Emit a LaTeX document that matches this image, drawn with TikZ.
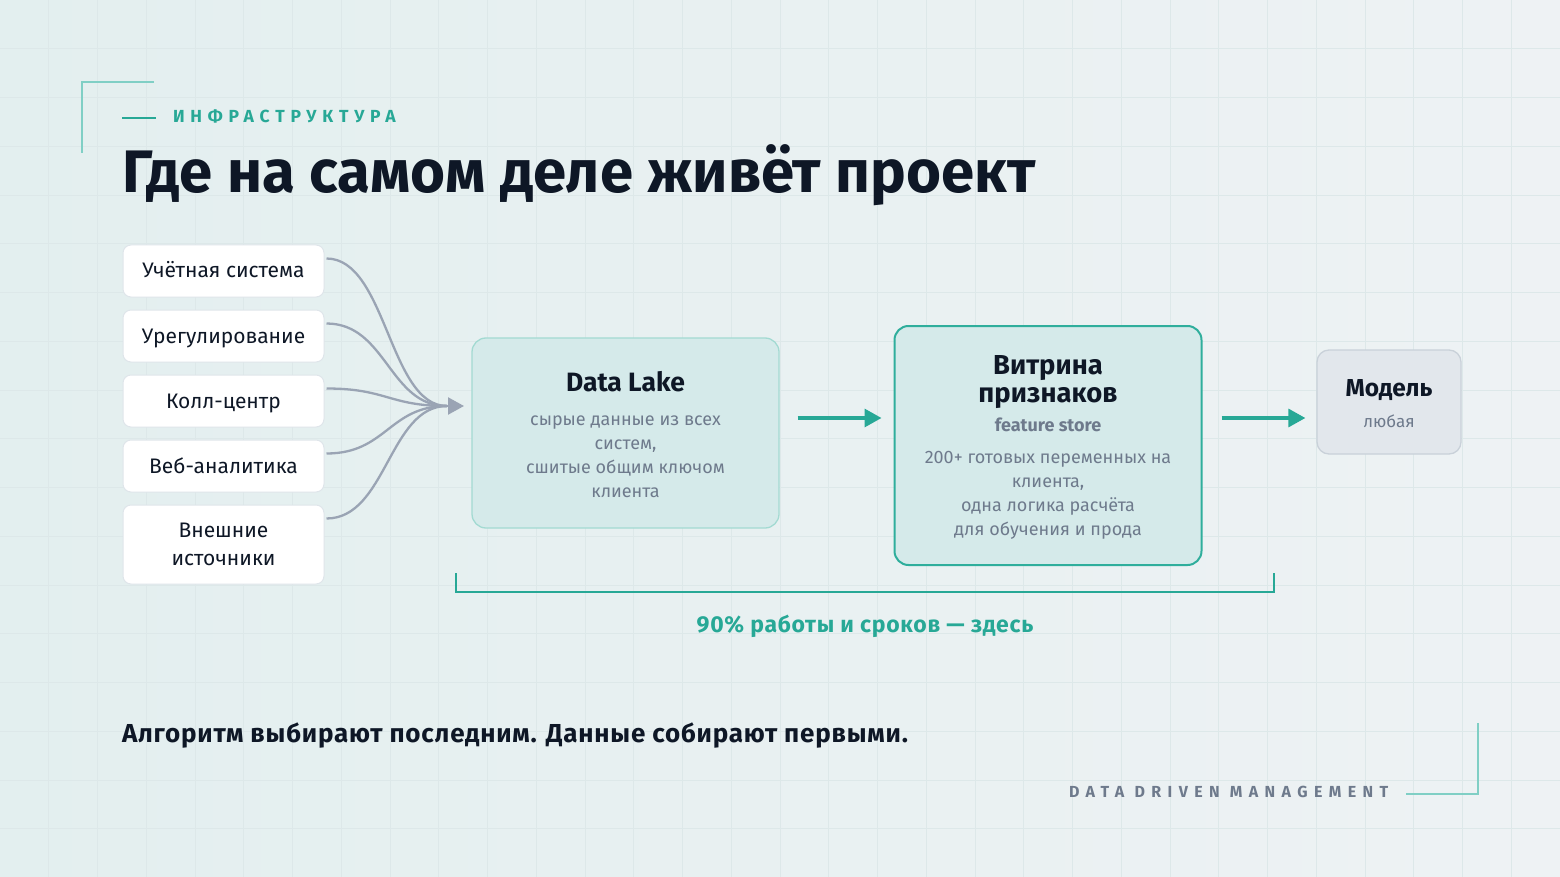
\documentclass[tikz,border=0pt]{standalone}
\usepackage{fontspec}
\setmainfont{Fira Sans}
\newfontfamily\kickfont[LetterSpace=33]{Fira Sans}
\newfontfamily\brandfont[LetterSpace=40]{Fira Sans}
\newfontfamily\widefont[LetterSpace=3]{Fira Sans}
\newfontfamily\titlefont{Fira Sans}
\usetikzlibrary{arrows.meta,calc}
\definecolor{bgA}{HTML}{E3EFEF}
\definecolor{bgB}{HTML}{EEF2F4}
\definecolor{gridc}{HTML}{DDE8E9}
\definecolor{accentl}{HTML}{80CFC5}
\definecolor{tealc}{HTML}{27A896}
\definecolor{navy}{HTML}{0E1726}
\definecolor{grayt}{HTML}{6E7A8C}
\definecolor{curvec}{HTML}{9AA4B4}
\definecolor{srcborder}{HTML}{DFE5EA}
\definecolor{lakefill}{HTML}{D5EAEA}
\definecolor{lakeborder}{HTML}{A3DAD2}
\definecolor{shelfborder}{HTML}{2FAE9C}
\definecolor{modelfill}{HTML}{E2E7EC}
\definecolor{modelborder}{HTML}{C9D1D9}
\begin{document}
\begin{tikzpicture}[x=1pt,y=-1pt,
  txt/.style={inner sep=0pt, outer sep=0pt, anchor=base},
  srcbox/.style={draw=srcborder, fill=white, rounded corners=8pt, line width=1pt, minimum width=201pt, inner sep=0pt},
  srctext/.style={txt, text=navy, font=\fontsize{21}{28}\selectfont, align=center},
  bigbox/.style={rounded corners=14pt, minimum width=307pt, inner sep=0pt},
  boxtitle/.style={txt, text=navy, font=\bfseries\fontsize{27.4}{28}\selectfont, align=center},
  boxbody/.style={txt, text=grayt, font=\fontsize{18}{24}\selectfont, align=center},
  curve/.style={draw=curvec, line width=2.3pt},
  tealarrow/.style={draw=tealc, line width=3.2pt, -{Triangle[length=17pt,width=18pt]}},
  accent/.style={draw=accentl, line width=2pt}
]
\useasboundingbox (0,0) rectangle (1560,877);
\shade[left color=bgA, right color=bgB] (0,0) rectangle (1560,877);
\foreach \i in {1,...,31} \draw[gridc, line width=0.8pt] (\i*48.75,0) -- (\i*48.75,877);
\foreach \j in {1,...,17} \draw[gridc, line width=0.8pt] (0,\j*48.75) -- (1560,\j*48.75);

% corner brackets
\draw[accent] (154,82) -- (82,82) -- (82,153);
\draw[accent] (1406,794) -- (1478,794) -- (1478,723);

% header
\draw[draw=tealc, line width=1.8pt] (122,118) -- (156,118);
\node[txt, anchor=base west, text=tealc] (kicker) at (173,123) {\kickfont\bfseries\fontsize{17.5}{20}\selectfont ИНФРАСТРУКТУРА};
\node[txt, anchor=base west, text=navy] (title) at (122,193) {\titlefont\bfseries\fontsize{60}{64}\selectfont Где на самом деле живёт проект};

% sources
\node[srcbox, minimum height=52pt] (s1) at (223.5,271) {};
\node[srcbox, minimum height=52pt] (s2) at (223.5,336) {};
\node[srcbox, minimum height=52pt] (s3) at (223.5,401) {};
\node[srcbox, minimum height=52pt] (s4) at (223.5,466) {};
\node[srcbox, minimum height=79pt] (s5) at (223.5,544.5) {};
\node[srctext] (s1t) at (223.5,278) {Учётная система};
\node[srctext] (s2t) at (223.5,343) {Урегулирование};
\node[srctext] (s3t) at (223.5,408) {Колл-центр};
\node[srctext] (s4t) at (223.5,473) {Веб-аналитика};
\node[srctext] (s5t) at (223.5,565) {Внешние\\источники};

% converging curves
\coordinate (conv) at (447,406);
\coordinate (tipL) at (464,406);
\foreach \s in {s1,s2,s3,s4,s5}
  \draw[curve] ($(\s.north east)+(2,14)$) .. controls ($(\s.north east)+(62,14)$) and ($(conv)+(-58,0)$) .. (conv);
\draw[curve, -{Triangle[length=16pt,width=17pt]}] (conv) -- (tipL);

% Data Lake
\node[bigbox, draw=lakeborder, fill=lakefill, line width=1.3pt, minimum height=190pt] (lake) at (625.5,433) {};
\node[boxtitle, font=\bfseries\fontsize{26.5}{28}\selectfont] (laket) at (625.5,391) {Data Lake};
\node[boxbody] (lakeb) at (625.5,497) {сырые данные из всех\\систем,\\сшитые общим ключом\\клиента};

% Feature store
\node[bigbox, draw=shelfborder, fill=lakefill, line width=2pt, minimum height=239pt] (shelf) at (1048,445.5) {};
\node[boxtitle] (shelft) at (1048,402) {Витрина\\признаков};
\node[txt, text=grayt, font=\bfseries\fontsize{18}{20}\selectfont] (shelfs) at (1048,431) {feature store};
\node[boxbody] (shelfb) at (1048,535) {200+ готовых переменных на\\клиента,\\одна логика расчёта\\для обучения и прода};

% Model
\node[draw=modelborder, fill=modelfill, rounded corners=12pt, line width=1.3pt, minimum width=144pt, minimum height=104pt, inner sep=0pt] (model) at (1389,402) {};
\node[txt, text=navy, font=\bfseries\fontsize{24.5}{26}\selectfont] (modelt) at (1389,396) {Модель};
\node[txt, text=grayt, font=\fontsize{17}{20}\selectfont] (models) at (1389,427) {любая};

% teal arrows
\draw[tealarrow] ($(lake.east|-0,418)+(18,0)$) -- ($(shelf.west|-0,418)+(-12,0)$);
\draw[tealarrow] ($(shelf.east|-0,418)+(19,0)$) -- ($(model.west|-0,418)+(-11,0)$);

% bracket
\coordinate (brL) at (456,573);
\coordinate (brR) at (1274,573);
\draw[draw=tealc, line width=2.6pt] (brL) -- ($(brL)+(0,19)$) -- ($(brR)+(0,19)$) -- (brR);
\node[txt, text=tealc] (span) at (865,632) {\widefont\bfseries\fontsize{23}{24}\selectfont 90\% работы и сроков — здесь};

% bottom
\node[txt, anchor=base west, text=navy] (moral) at (122,742) {\widefont\bfseries\fontsize{26}{28}\selectfont Алгоритм выбирают последним. Данные собирают первыми.};
\node[txt, anchor=base west, text=grayt] (brand) at (1069,797) {\brandfont\bfseries\fontsize{16}{18}\selectfont DATA DRIVEN MANAGEMENT};
\end{tikzpicture}
\end{document}
